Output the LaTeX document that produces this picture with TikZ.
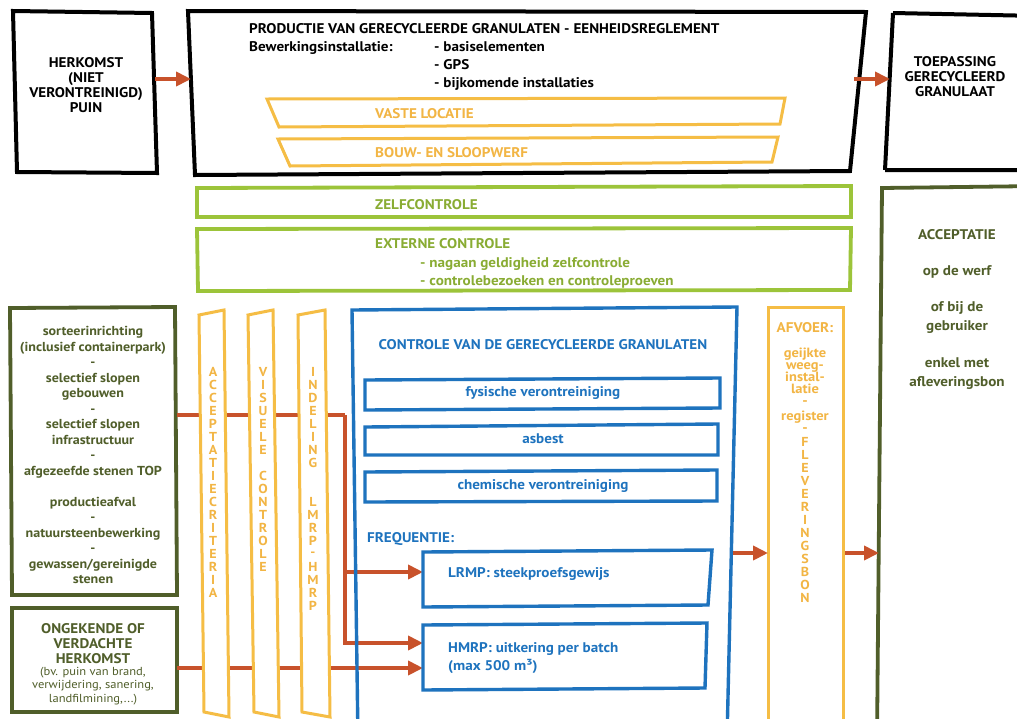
\documentclass[tikz,border=0pt]{standalone}
\usepackage{fontspec}
\setmainfont{PT Sans}[FakeStretch=1.08]
\usetikzlibrary{arrows.meta}
\definecolor{ylw}{HTML}{F5BD45}
\definecolor{ylwt}{HTML}{F2B544}
\definecolor{lime}{HTML}{9CC43A}
\definecolor{dkg}{HTML}{505E2A}
\definecolor{blu}{HTML}{1E73BE}
\definecolor{arr}{HTML}{C8522B}
\tikzset{
  blk/.style={draw=black,line width=4pt,line join=miter},
  ybox/.style={draw=ylw,line width=3pt,fill=white,line join=miter},
  lbox/.style={draw=lime,line width=3.8pt},
  gbox/.style={draw=dkg,line width=3.8pt},
  bbox/.style={draw=blu,line width=3.4pt},
  conn/.style={draw=arr,line width=3.8pt,-{Triangle[length=15pt,width=14pt]}},
  wire/.style={draw=arr,line width=3.8pt},
  txt/.style={inner sep=0pt,font=\bfseries\fontsize{14}{15}\selectfont},
  blktxt/.style={txt,text=black},
  ytxt/.style={txt,text=ylwt},
  ltxt/.style={txt,text=lime!88!black},
  gtxt/.style={txt,text=dkg},
  btxt/.style={txt,text=blu},
  vl/.style={inner sep=0pt,text=ylwt,font=\bfseries\fontsize{13}{13}\selectfont},
}
\begin{document}
\begin{tikzpicture}[x=1pt,y=-1pt]
\useasboundingbox (0,0) rectangle (1017,718);
\fill[white] (0,0) rectangle (1017,718);
\clip (0,0) rectangle (1017,718);

% ---------- top row ----------
\draw[blk] (13,11) -- (152,13) -- (157,173) -- (17,172) -- cycle;
\node[blktxt,align=center] (herk) at (86,85) {HERKOMST\\(NIET\\VERONTREINIGD)\\PUIN};

\draw[blk] (188,11) -- (866,12) -- (850,171) -- (195,175) -- cycle;
\node[blktxt,anchor=base west] (prodt) at (249,33) {PRODUCTIE VAN GERECYCLEERDE GRANULATEN - EENHEIDSREGLEMENT};
\node[blktxt,anchor=base west] (bew) at (249,51) {Bewerkingsinstallatie:};
\node[blktxt,anchor=base west] (b1) at (434,51) {- basiselementen};
\node[blktxt,anchor=base west] (b2) at (434,69) {- GPS};
\node[blktxt,anchor=base west] (b3) at (434,87) {- bijkomende installaties};

\draw[ybox] (267,99) -- (785,98) -- (780,124) -- (279,127) -- cycle;
\node[ytxt,anchor=base west] (vaste) at (375,118) {VASTE LOCATIE};
\draw[ybox] (278,139) -- (778,137) -- (772,162) -- (290,166) -- cycle;
\node[ytxt,anchor=base west] (bouw) at (375,157) {BOUW- EN SLOOPWERF};

\draw[blk] (893,13) -- (1040,16) (885,170) -- (1040,170) (893,13) -- (885,170);
\node[blktxt,align=center] (toep) at (955,77) {TOEPASSING\\GERECYCLEERD\\GRANULAAT};

\coordinate (herkE) at (155,79);
\coordinate (prodW) at (191,79);
\coordinate (prodE) at (854,79);
\coordinate (toepW) at (890,79);
\draw[conn] (herkE) -- (prodW);
\draw[conn] (prodE) -- (toepW);

% ---------- controls ----------
\draw[lbox] (197,188) -- (851,186) -- (851,217) -- (197,217) -- cycle;
\node[ltxt,anchor=base west] (zelf) at (375,209) {ZELFCONTROLE};
\draw[lbox] (197,229) -- (851,228) -- (850,290) -- (198,291) -- cycle;
\node[ltxt,anchor=base west] (ext) at (375,248) {EXTERNE CONTROLE};
\node[ltxt,anchor=base west] (ext1) at (420,267) {- nagaan geldigheid zelfcontrole};
\node[ltxt,anchor=base west] (ext2) at (420,285) {- controlebezoeken en controleproeven};

% right acceptance box
\draw[gbox] (877,740) -- (882,188) -- (1040,186);
\node[gtxt] (acc) at (957,235) {ACCEPTATIE};
\node[gtxt] (werf) at (957,272) {op de werf};
\node[gtxt,align=center,font=\bfseries\fontsize{14}{19}\selectfont] (gebr) at (957,318) {of bij de\\gebruiker};
\node[gtxt,align=center,font=\bfseries\fontsize{14}{19}\selectfont] (bon) at (957,374) {enkel met\\afleveringsbon};

% ---------- left boxes ----------
\draw[gbox] (10,308) -- (175,307) -- (177,595) -- (12,595) -- cycle;
\node[gtxt,align=center,font=\bfseries\fontsize{13}{15.5}\selectfont] (herkl) at (93,455) {sorteerinrichting\\(inclusief containerpark)\\-\\selectief slopen\\gebouwen\\-\\selectief slopen\\infrastructuur\\-\\afgezeefde stenen TOP\\[15.5pt]productieafval\\-\\natuursteenbewerking\\-\\gewassen/gereinigde\\stenen};

\draw[gbox] (12,608) -- (177,608) -- (177,712) -- (12,712) -- cycle;
\node[gtxt,align=center] (ong) at (93,644) {ONGEKENDE OF\\VERDACHTE\\HERKOMST};
\node[gtxt,align=center,font=\fontsize{11.6}{13.5}\selectfont] (ongb) at (93,686) {(bv. puin van brand,\\verwijdering, sanering,\\landfilmining,...)};

% ---------- connectors (under the bars) ----------
\coordinate (lgE) at (177,415);
\coordinate (jn) at (345,415);
\coordinate (lrmpW) at (423,572);
\coordinate (hmrpW) at (423,643);
\coordinate (ongE) at (177,668);
\coordinate (hmrpW2) at (423,668);
\draw[wire] (lgE) -- (jn);
\draw[conn] (jn) |- (lrmpW);
\draw[conn] (jn) |- (hmrpW);
\draw[conn] (ongE) -- (hmrpW2);

% ---------- yellow bars ----------
\draw[ybox] (199,315) -- (224,310) -- (229,717) -- (204,712) -- cycle;
\draw[ybox] (248,315) -- (273,310) -- (279,717) -- (254,712) -- cycle;
\draw[ybox] (298,315) -- (325,310) -- (330,717) -- (302,712) -- cycle;
\foreach \c [count=\i from 0] in {A,C,C,E,P,T,A,T,I,E,C,R,I,T,E,R,I,A}
  \node[vl] (acr\i) at (213,372+13*\i) {\c};
\foreach \c [count=\i from 0] in {V,I,S,U,E,L,E}
  \node[vl] (vis\i) at (263,372+13*\i) {\c};
\foreach \c [count=\i from 8] in {C,O,N,T,R,O,L,E}
  \node[vl] (con\i) at (263,372+13*\i) {\c};
\foreach \c [count=\i from 0] in {I,N,D,E,L,I,N,G}
  \node[vl] (ind\i) at (313,372+13*\i) {\c};
\foreach \c [count=\i from 10] in {L,M,R,P,-,H,M,R,P}
  \node[vl] (lmr\i) at (313,372+13*\i) {\c};

% ---------- blue control box ----------
\draw[bbox] (358,740) -- (352,310) -- (737,307) -- (727,740);
\node[btxt] (ctit) at (543,345) {CONTROLE VAN DE GERECYCLEERDE GRANULATEN};
\draw[bbox] (365,380) -- (720,378) -- (720,408) -- (365,410) -- cycle;
\node[btxt] (fys) at (543,393) {fysische verontreiniging};
\draw[bbox] (365,427) -- (718,424) -- (718,455) -- (365,455) -- cycle;
\node[btxt,anchor=base] (asb) at (543,443) {asbest};
\draw[bbox] (365,472) -- (717,470) -- (717,501) -- (365,502) -- cycle;
\node[btxt] (chem) at (543,486) {chemische verontreiniging};
\node[btxt,anchor=base west] (freq) at (367,542) {FREQUENTIE:};
\draw[bbox] (423,552) -- (712,550) -- (708,605) -- (423,607) -- cycle;
\node[btxt,anchor=base west] (lrmp) at (448,577) {LRMP: steekproefsgewijs};
\draw[bbox] (423,625) -- (707,623) -- (705,688) -- (423,690) -- cycle;
\node[btxt,anchor=base west] (hmrp) at (448,652) {HMRP: uitkering per batch};
\node[btxt,anchor=base west] (max) at (448,670) {(max 500 m³)};

% ---------- afvoer bar ----------
\draw[ybox] (768,740) -- (768,307) -- (843,307) -- (843,740);
\node[ytxt,anchor=base] (afv) at (805,332) {AFVOER:};
\node[ytxt,anchor=base,font=\bfseries\fontsize{13.4}{13}\selectfont] (gk) at (805,357) {geijkte};
\node[ytxt,anchor=base,font=\bfseries\fontsize{13.4}{13}\selectfont] (wg) at (805,369) {weeg-};
\node[ytxt,anchor=base,font=\bfseries\fontsize{13.4}{13}\selectfont] (ins) at (805,381) {instal-};
\node[ytxt,anchor=base,font=\bfseries\fontsize{13.4}{13}\selectfont] (lat) at (805,393) {latie};
\node[ytxt] (d1) at (805,403) {-};
\node[ytxt,anchor=base,font=\bfseries\fontsize{13.4}{13}\selectfont] (reg) at (805,420) {register};
\node[ytxt] (d2) at (805,430) {-};
\foreach \c [count=\i from 0] in {F,L,E,V,E,R,I,N,G,S,B,O,N}
  \node[vl] (afl\i) at (805,442+13*\i) {\c};

\coordinate (blueE) at (733,553);
\coordinate (afvW) at (768,553);
\coordinate (afvE) at (845,553);
\coordinate (accW) at (879,553);
\draw[conn] (blueE) -- (afvW);
\draw[conn] (afvE) -- (accW);
\end{tikzpicture}
\end{document}
